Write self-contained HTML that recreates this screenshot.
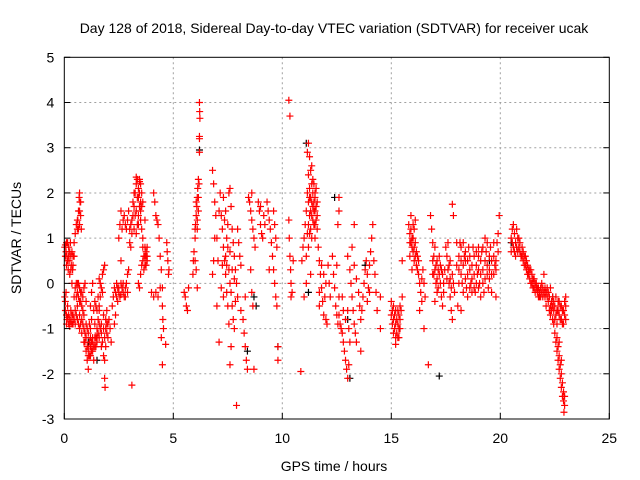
<!DOCTYPE html>
<html><head><meta charset="utf-8"><style>
body{margin:0;background:#fff;}
svg{display:block;font-family:"Liberation Sans",sans-serif;}
</style></head><body>
<svg id="chart" width="640" height="480">
<rect width="640" height="480" fill="#fff"/>
<text x="334" y="33" font-size="14" text-anchor="middle" fill="#000">Day 128 of 2018, Sidereal Day-to-day VTEC variation (SDTVAR) for receiver ucak</text>
<text x="334" y="471" font-size="14" text-anchor="middle">GPS time / hours</text>
<text transform="translate(21,238) rotate(-90)" font-size="14" text-anchor="middle">SDTVAR / TECUs</text>
<g id="grid"></g><g id="marks"></g><g id="axes"></g>
</svg>
<script>
const xTicks=[0,5,10,15,20,25];
const yTicks=[-3,-2,-1,0,1,2,3,4,5];
const blackPoints=[[6.2,2.95],[8.7,-0.3],[8.8,-0.5],[9.8,-1.4],[11.1,3.1],[12.4,1.9],[13.0,-0.8],[13.1,-2.1],[17.2,-2.05],[1.1,-1.3],[1.5,-1.7],[8.4,-1.5],[22.4,-0.3],[19.5,0.5],[20.5,0.9],[13.8,0.4],[11.2,-0.2]];
const redEarly=[[0.02,0.8],[0.05,0.85],[0.08,0.7],[0.1,0.9],[0.12,0.6],[0.15,0.5],[0.18,0.3],[0.2,0.8],[0.22,0.5],[0.25,0.2],[0.28,0.9],[0.3,0.6],[0.32,0.4],[0.35,0.0],[0.38,0.3],[0.4,0.6],[0.45,0.9],[0.5,1.1],[0.55,1.3],[0.6,1.2],[0.62,1.4],[0.65,1.6],[0.68,1.9],[0.7,2.0],[0.72,1.8],[0.75,1.5],[0.7,1.3],[0.78,1.2],
[0.02,-0.3],[0.05,-0.4],[0.08,-0.2],[0.1,-0.7],[0.12,-0.8],[0.15,-0.75],[0.2,-0.9],[0.25,-0.8],[0.3,-0.85],[0.35,-0.9],[0.4,-0.7],[0.45,-0.3],[0.5,-0.1],[0.55,0.0],[0.6,-0.2],[0.65,0.0],[0.7,-0.1],[0.75,-0.4],[0.8,-0.5],[0.85,-0.3],[0.9,-0.1],[0.95,0.0],[1.0,-0.4],[0.5,-0.9],[0.6,-0.8],[0.7,-1.0],[0.8,-1.1],[0.9,-1.3],[1.0,-1.5],[1.05,-1.7],[1.1,-1.9],[1.15,-1.6],[1.2,-1.4],[1.25,-1.3],[0.9,-0.7],[1.0,-0.9],[1.1,-1.1],[1.2,-1.2],[1.3,-1.5],[1.35,-1.7],[1.4,-1.4],[1.45,-1.2],[1.5,-1.0],[1.55,-0.8],[1.6,-0.5],[1.65,-0.3],[1.7,-0.1],[1.75,0.2],[1.8,0.3],[1.85,0.4],[1.2,-0.5],[1.25,-0.2],[1.3,0.0],[1.4,-0.4],[1.5,-1.3],[1.6,-1.2],[1.7,-1.4],[1.8,-1.6],[1.85,-1.7],[1.9,-1.4],[1.95,-1.1],[2.0,-0.9],[2.05,-0.8],[2.1,-1.0],[2.15,-1.3],[1.9,-0.8],[1.95,-0.6],[1.85,-2.1],[1.87,-2.3],[1.6,-0.6],[1.7,-0.9],[1.8,-0.7],[1.1,-1.45],[1.2,-1.0],[1.3,-1.2],[1.4,-0.9],[1.5,-0.6],[0.85,-0.9],[0.95,-1.1],
[2.2,-0.5],[2.25,-0.3],[2.3,-0.1],[2.35,-0.2],[2.4,0.0],[2.45,-0.1],[2.5,-0.2],[2.55,-0.3],[2.6,0.0],[2.65,-0.1],[2.7,-0.2],[2.75,-0.3],[2.8,-0.1],[2.85,0.0],[2.9,-0.2],[2.3,-0.9],[2.35,-0.7],[2.45,-0.4],
[2.5,1.0],[2.55,1.3],[2.6,1.6],[2.65,1.2],[2.7,1.4],[2.75,1.5],[2.6,0.5],[2.8,1.3],[2.85,1.2],[2.9,1.4],[2.95,1.6],[3.0,1.2],[2.9,0.2],[2.95,0.3],[3.0,0.9],[3.05,0.8],[3.1,1.4],[3.15,1.5],[3.2,1.7],[3.25,2.0],[3.3,2.2],[3.35,2.3],[3.4,2.1],[3.45,2.3],[3.5,2.2],[3.55,2.0],[3.6,1.8],[3.3,1.1],[3.35,1.3],[3.4,1.5],[3.45,1.7],[3.5,1.4],[3.55,1.2],[3.6,1.0],[3.7,0.8],[3.75,0.6],[3.8,0.5],[3.4,0.0],[3.45,-0.1],[3.5,0.2],[3.55,0.4],[3.6,0.5],[3.65,0.6],[3.7,0.4],[3.75,0.7],[3.8,0.6],[3.7,1.4],[3.1,-2.25],[3.2,1.2],[3.25,1.5],[3.4,1.9],[3.5,1.8],
[4.1,2.0],[4.15,1.8],[4.2,1.5],[4.25,1.4],[4.3,1.3],[4.35,1.0],[4.4,0.6],[4.45,0.3],[4.5,-0.1],[4.5,-0.5],[4.52,-0.8],[4.55,-1.0],[4.45,-1.2],[4.0,-0.2],[4.1,-0.3],[4.2,-0.2],[4.3,-0.3],[4.4,-0.1],[4.5,-1.8],[4.65,-1.35],[4.7,0.9],[4.72,0.7],[4.75,0.5],[4.78,0.2],[4.8,0.3]];
const redEarlyDense=[[0.05,0.6],[0.1,0.4],[0.15,0.9],[0.2,0.6],[0.25,0.7],[0.3,0.3],[0.35,0.7],[0.4,0.4],[0.45,0.6],[0.05,-0.6],[0.1,-0.9],[0.15,-0.5],[0.2,-0.7],[0.25,-0.95],[0.3,-0.6],[0.35,-0.7],[0.4,-0.9],[0.45,-0.8],[0.5,-0.6],[0.55,-0.7],[0.6,-0.5],[0.65,-0.9],[0.7,-0.7],[0.75,-0.9],[0.8,-0.8],[0.55,-0.3],[0.6,0.0],[0.65,-0.3],[0.7,-0.4],[0.75,-0.2],[0.8,-0.2],[0.85,-0.6],[0.9,-1.0],[0.95,-1.3],[1.0,-1.2],[1.05,-1.4],[1.1,-1.6],[1.15,-1.3],[1.2,-1.6],[1.25,-1.5],[1.3,-1.3],[1.35,-1.4],[1.4,-1.2],[1.45,-1.4],[1.5,-1.2],[1.55,-1.1],[1.6,-0.9],[1.65,-1.0],[1.7,-1.1],[1.75,-1.3],[1.8,-1.0],[1.85,-1.2],[1.9,-1.0],[1.95,-0.9],[2.0,-1.2],[1.05,-1.0],[1.15,-0.9],[1.25,-0.8],[1.35,-0.6],[1.45,-0.5],[1.55,-0.3],[1.65,0.0],[1.75,-0.2],[1.6,0.1],[0.6,1.4],[0.65,1.2],[0.7,1.6],[0.75,1.8],[2.4,-0.3],[2.5,-0.1],[2.6,-0.25],[2.7,0.0],[2.8,-0.3],[3.05,1.3],[3.1,1.1],[3.15,1.8],[3.2,2.0],[3.3,1.6],[3.35,1.9],[3.4,1.3],[3.45,2.0],[3.5,1.6],[3.55,1.7],[3.3,2.35],[3.45,2.25],[3.6,0.8],[3.65,0.3],[3.7,0.6],[3.75,0.4],[3.8,0.8]];
const redMid=[[5.5,-0.2],[5.55,-0.3],[5.6,-0.5],[5.65,-0.6],[5.7,-0.1],[5.9,0.2],[5.92,0.5],[5.95,0.7],[6.0,1.0],[6.02,1.3],[6.05,1.5],[6.08,1.7],[6.1,1.9],[6.12,2.1],[6.15,2.3],[6.18,2.2],[6.0,0.5],[6.05,0.3],[6.1,1.2],[6.15,1.6],[6.2,4.0],[6.21,3.8],[6.22,3.65],[6.2,3.2],[6.2,3.25],[6.2,2.9],[6.1,-0.1],[6.05,1.8],[6.1,1.4],[6.15,1.9],[6.0,1.2],
[6.8,2.5],[6.85,2.2],[6.9,1.8],[6.95,1.5],[7.0,1.0],[7.05,0.5],[6.8,0.2],[6.85,0.5],[6.9,1.0],[7.1,1.6],[7.15,2.0],[7.2,1.5],[7.25,1.2],[7.3,0.8],[7.35,0.5],[7.4,0.2],[7.45,-0.2],[7.5,-0.5],[7.55,-0.9],[7.3,1.9],[7.4,1.6],[7.5,1.3],[7.55,2.0],[7.6,2.1],[7.65,1.7],[7.7,1.2],[7.75,0.9],[7.8,0.6],[7.85,0.3],[7.9,0.0],[7.95,-0.3],[7.6,0.0],[7.65,-0.2],[7.7,-0.5],[7.75,-0.8],[7.8,-1.0],[7.4,0.6],[7.45,0.4],[7.5,0.8],[7.55,0.3],[7.2,-0.1],[7.3,-0.3],[7.25,0.4],[7.1,-1.3],[7.0,-0.5],[7.6,-1.8],[7.65,-1.4],[8.0,0.9],[8.05,0.6],[8.1,0.4],[7.95,1.2],[8.2,-0.8],[8.25,-1.1],[8.3,-1.4],[8.35,-1.7],[8.4,-1.9],[8.1,-0.6],[7.9,-2.7],[8.3,-0.3],[7.35,1.4],[7.45,1.0],[7.6,0.7],[7.7,0.3],[7.8,0.1],[7.85,-0.4],
[8.45,1.9],[8.5,1.8],[8.55,1.6],[8.6,1.4],[8.65,1.2],[8.7,1.0],[8.75,0.8],[8.55,0.3],[8.6,-0.2],[8.65,-0.5],[8.7,-1.9],[8.6,2.0],
[8.9,1.8],[8.95,1.6],[9.0,1.3],[9.05,1.1],[9.1,1.0],[9.0,1.7],[9.15,1.5],[9.2,1.3],[9.3,1.8],[9.35,1.6],[9.4,1.4],[9.45,1.2],[9.5,0.9],[9.55,0.6],[9.6,0.3],[9.65,0.0],[9.7,-0.3],[9.75,-0.5],[9.6,1.6],[9.65,1.3],[9.7,1.0],[9.75,0.8],[9.8,-1.4],[9.8,-1.7],[9.4,0.3],
[10.3,4.05],[10.35,3.7],[10.3,1.4],[10.32,1.0],[10.35,0.6],[10.38,0.3],[10.4,0.0],[10.45,-0.2],[10.4,-0.3],[10.5,0.5],[10.85,-1.95]];
const redLate=[[10.9,0.5],[10.95,0.8],[11.0,1.0],[11.05,1.3],[11.1,1.6],[11.15,2.0],[11.2,2.4],[11.25,2.8],[11.15,2.9],[11.2,3.1],[11.3,2.5],[11.35,2.2],[11.4,2.0],[11.45,1.8],[11.5,1.6],[11.55,1.4],[11.6,1.2],[11.25,1.5],[11.3,1.2],[11.35,1.0],[11.4,1.7],[11.45,1.3],[11.5,1.0],[11.55,2.1],[11.6,1.8],[11.1,0.6],[11.2,0.8],[11.3,0.2],[11.1,0.0],[11.0,-0.3],[11.15,1.1],[11.25,1.9],[11.35,1.5],[11.45,2.2],[11.5,1.9],[11.65,0.8],[11.7,0.5],[11.75,0.2],[11.8,-0.1],[11.85,-0.4],[11.9,-0.7],[11.95,-0.3],[12.0,0.0],[11.8,0.4],[11.9,0.2],[12.0,-0.8],[12.05,-0.9],[11.7,-0.5],[11.7,-0.2],
[12.1,0.4],[12.15,0.0],[12.2,-0.3],[12.3,0.6],[12.35,0.2],[12.4,-0.1],[12.5,0.4],[12.55,1.3],[12.6,1.9],[12.6,1.6],[12.45,-0.5],[12.5,-0.7],[12.6,-0.3],[12.55,-0.9],[12.6,-0.7],[12.65,-0.9],[12.7,-1.0],[12.75,-1.1],[12.8,-1.3],[12.85,-1.5],[12.9,-1.7],[12.95,-1.9],[13.0,-2.1],[13.05,-1.8],[12.9,-0.8],[13.0,-0.6],[13.05,-1.0],[13.1,-1.3],[12.8,-0.6],[12.75,-0.3],[13.0,0.6],[13.1,0.3],[13.15,0.0],[13.2,-0.3],[13.25,-0.6],[13.3,-0.9],[13.35,-1.1],[13.4,-1.3],[13.2,0.8],[13.3,0.4],[13.4,0.1],[13.5,-0.2],[13.55,-0.5],[13.6,-0.8],[13.65,-0.6],[13.7,-0.3],[13.75,0.0],[13.8,0.3],[13.85,0.5],[13.9,0.2],[13.95,-0.1],[14.0,0.4],[14.05,0.7],[14.1,1.0],[14.15,1.3],[14.2,0.5],[14.25,0.2],[14.3,-0.2],[14.35,-0.6],[13.9,-0.4],[14.0,-0.2],[13.3,1.3],[13.6,-1.5],[14.5,-1.0],[14.5,-0.3],
[15.0,-0.4],[15.05,-0.6],[15.1,-0.8],[15.15,-1.0],[15.2,-1.2],[15.25,-1.1],[15.3,-0.9],[15.35,-0.7],[15.4,-0.5],[15.1,-0.5],[15.2,-0.6],[15.3,-1.2],[15.35,-1.0],[15.4,-0.8],[15.5,-0.3],[15.5,0.5],[15.2,-1.35],
[15.8,1.3],[15.85,1.1],[15.9,0.9],[15.95,0.8],[16.0,1.0],[16.05,0.8],[16.1,0.6],[16.15,0.4],[16.2,0.3],[16.25,0.2],[15.85,0.6],[15.95,0.3],[16.05,1.2],[16.1,1.4],[15.9,1.5],[16.3,0.0],[16.35,-0.2],[16.4,0.1],[16.45,0.3],[16.5,0.0],[16.55,-0.3],[16.3,-0.6],[16.4,-0.4],[16.7,-1.8],[16.5,-1.0],
[16.8,1.5],[16.85,1.2],[16.9,0.9],[16.95,0.6],[17.0,0.3],[17.05,0.0],[17.1,-0.2],[17.15,-0.1],[17.0,0.8],[17.1,0.5],[17.2,0.2],[17.25,0.0],[17.3,-0.3],[17.35,-0.5],[17.2,0.6],[17.3,0.3],[17.4,0.0],[16.9,0.2],[17.0,-0.4],
[17.5,0.8],[17.55,0.6],[17.6,0.3],[17.65,0.0],[17.7,-0.3],[17.75,-0.6],[17.6,0.9],[17.7,0.5],[17.8,0.2],[17.85,1.5],[17.8,1.75],[17.85,0.0],[17.9,-0.2],[17.8,-0.8],
[18.0,0.4],[18.1,0.6],[18.2,0.8],[18.3,0.9],[18.4,0.7],[18.5,0.5],[18.6,0.3],[18.7,0.1],[18.8,0.2],[18.9,0.0],[19.0,-0.1],[18.1,0.0],[18.2,0.2],[18.3,-0.2],[18.4,0.1],[18.5,-0.3],[18.6,-0.1],[18.7,0.4],[18.8,0.6],[18.9,0.4],[19.0,0.3],[19.1,0.5],[19.2,0.3],[19.3,0.1],[19.4,0.4],[19.5,0.6],[19.6,0.5],[19.7,0.2],[19.8,0.5],[19.9,0.7],[19.2,0.8],[19.3,1.0],[19.4,0.9],[19.5,0.1],[19.6,-0.2],[19.1,-0.3],[18.2,-0.6],[18.0,0.9],[19.0,0.8],[19.7,0.9],[19.8,-0.3],[19.95,1.5],[19.9,1.1],[18.05,-0.5],
[20.5,1.0],[20.55,1.2],[20.6,1.3],[20.65,1.1],[20.7,0.9],[20.75,1.2],[20.8,1.0],[20.85,0.8],[20.9,0.7],[20.95,0.6],[21.0,0.6],[20.5,0.7],[20.6,0.8],[20.7,0.6],[20.8,0.7],[21.05,0.5],[21.1,0.4],[21.15,0.4],[21.2,0.3],[21.25,0.2],[21.3,0.2],[21.35,0.1],[21.4,0.0],[21.45,0.0],[21.5,-0.1],[21.55,-0.1],[21.6,-0.2],[21.65,-0.1],[21.7,-0.2],[21.75,-0.1],[21.8,-0.2],[21.85,-0.3],[21.9,-0.2],[21.95,-0.3],[22.0,-0.2],[22.05,-0.1],[22.1,-0.2],[22.15,-0.3],[22.2,-0.4],[22.25,-0.3],[22.3,-0.5],[21.9,0.0],[22.0,0.2],[22.1,-0.5],[21.4,0.3],[22.35,-0.6],[22.4,-0.8],[22.45,-0.9],[22.5,-1.1],[22.55,-1.3],[22.6,-1.5],[22.65,-1.7],[22.7,-1.9],[22.75,-2.1],[22.8,-2.3],[22.85,-2.5],[22.9,-2.6],[22.95,-2.5],[22.92,-2.85],[22.5,-0.5],[22.55,-0.3],[22.6,-0.6],[22.65,-0.4],[22.7,-0.7],[22.75,-0.5],[22.8,-0.8],[22.85,-0.6],[22.9,-0.9],[22.95,-0.4],[23.0,-0.5],[23.0,-0.8],[22.4,-0.3],[22.3,-0.1]];
const redLateDense=[[11.2,1.3],[11.25,1.1],[11.3,1.6],[11.35,1.8],[11.4,1.4],[11.45,1.6],[11.5,1.3],[11.55,1.7],[11.6,1.5],[11.3,1.9],[11.4,2.3],[11.5,2.0],[11.2,1.8],[11.25,2.1],[11.35,2.6],[15.05,-0.9],[15.1,-1.1],[15.15,-0.7],[15.25,-0.8],[15.3,-0.6],[15.35,-1.2],[15.4,-1.0],[15.0,-0.7],[15.2,-0.9],[15.45,-0.6],[15.9,1.2],[15.95,1.0],[16.0,0.7],[16.05,0.5],[16.1,0.9],[16.15,0.7],[16.2,0.6],[16.25,0.5],[15.85,0.9],[16.0,1.3],[16.9,0.5],[16.95,0.2],[17.05,0.4],[17.1,0.1],[17.15,0.3],[17.25,0.4],[17.35,0.2],[17.4,-0.2],[17.45,0.3],[17.55,0.1],[17.65,0.4],[17.7,0.1],[17.75,-0.1],[18.1,0.3],[18.2,0.5],[18.3,0.4],[18.4,0.5],[18.5,0.2],[18.6,0.6],[18.7,-0.2],[18.8,-0.1],[18.9,0.7],[19.0,0.6],[19.1,0.2],[19.2,0.0],[19.3,0.5],[19.4,0.2],[19.5,0.3],[19.6,0.2],[19.7,0.6],[19.8,0.3],[19.85,0.9],[18.15,0.9],[18.35,0.6],[18.55,0.8],[18.75,0.8],[18.95,0.2],[19.15,0.7],[19.35,0.7],[19.55,0.8],[19.75,0.4],[18.25,0.0],[18.45,-0.1],[18.65,0.0],[18.85,-0.2],[19.05,0.0],[19.25,-0.2],[19.45,-0.1],[20.55,0.9],[20.65,0.7],[20.75,0.8],[20.85,1.0],[20.9,0.9],[21.0,0.8],[21.05,0.7],[21.1,0.6],[21.15,0.6],[21.2,0.5],[21.25,0.4],[21.3,0.3],[21.35,0.3],[21.45,0.2],[21.5,0.1],[21.55,0.1],[21.6,0.0],[21.65,0.0],[21.7,-0.1],[21.75,-0.3],[21.8,-0.3],[21.85,-0.1],[21.95,-0.1],[22.05,-0.3],[22.15,-0.1],[22.2,-0.2],[22.25,-0.6],[22.3,-0.7],[22.35,-0.4],[22.4,-0.5],[22.45,-0.4],[22.45,-0.6],[22.5,-0.8],[22.55,-0.7],[22.6,-0.9],[22.65,-0.6],[22.7,-0.4],[22.75,-0.8],[22.8,-0.5],[22.85,-0.9],[22.9,-0.6],[22.95,-0.7],[23.0,-0.3],[22.6,-1.2],[22.65,-1.4],[22.7,-1.6],[22.75,-1.8],[22.8,-2.0],[22.85,-2.2],[22.9,-2.4],[22.95,-2.7],[22.7,-1.3],[22.8,-1.7]];

const NS='http://www.w3.org/2000/svg';
const L=64.3,R=609.3,T=57.3,B=419;
const xMin=0,xMax=25,yMin=-3,yMax=5;
function xs(v){return L+(v-xMin)/(xMax-xMin)*(R-L);}
function ys(v){return B-(v-yMin)/(yMax-yMin)*(B-T);}
function mk(tag,attrs,parent){const e=document.createElementNS(NS,tag);for(const k in attrs)e.setAttribute(k,attrs[k]);parent.appendChild(e);return e;}
const grid=document.getElementById('grid'),marks=document.getElementById('marks'),axes=document.getElementById('axes');
xTicks.forEach(t=>{
  if(t>xMin&&t<xMax){const g=mk('line',{x1:xs(t),x2:xs(t),y1:T,y2:B,stroke:'#a0a0a0','stroke-dasharray':'2,3','stroke-width':1},grid);
  
  }
  const tk=mk('line',{x1:xs(t),x2:xs(t),y1:B,y2:B-6,stroke:'#000'},axes);
  
  
  const tx=mk('text',{x:xs(t),y:B+24,'font-size':14,'text-anchor':'middle'},axes);tx.textContent=t;
  
  
});
yTicks.forEach(t=>{
  if(t>yMin&&t<yMax){const g=mk('line',{x1:L,x2:R,y1:ys(t),y2:ys(t),stroke:'#a0a0a0','stroke-dasharray':'2,3','stroke-width':1},grid);
  
  }
  const tk=mk('line',{x1:L,x2:L+6,y1:ys(t),y2:ys(t),stroke:'#000'},axes);
  
  
  const tk2=mk('line',{x1:R,x2:R-6,y1:ys(t),y2:ys(t),stroke:'#000'},axes);
  
  
  const tx=mk('text',{x:L-10,y:ys(t)+5,'font-size':14,'text-anchor':'end'},axes);tx.textContent=t;
  
  
});
const frame=mk('rect',{x:L,y:T,width:R-L,height:B-T,fill:'none',stroke:'#000','stroke-width':1},axes);


function plus(p,color,name){
  const x=xs(p[0]),y=ys(p[1]);
  const e=mk('path',{d:`M${x-3.5},${y}H${x+3.5}M${x},${y-3.5}V${y+3.5}`,stroke:color,'stroke-width':1.2,fill:'none'},marks);
  
  
}
blackPoints.forEach(p=>plus(p,'#000','black-point'));
redEarly.forEach(p=>plus(p,'#ff0000','red-point'));
redEarlyDense.forEach(p=>plus(p,'#ff0000','red-point'));
redMid.forEach(p=>plus(p,'#ff0000','red-point'));
redLate.forEach(p=>plus(p,'#ff0000','red-point'));
redLateDense.forEach(p=>plus(p,'#ff0000','red-point'));
</script>
</body></html>
